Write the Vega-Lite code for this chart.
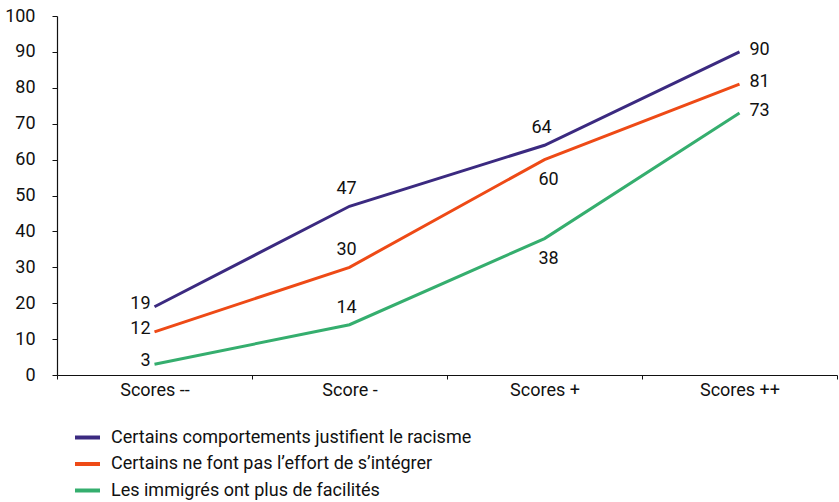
{
  "$schema": "https://vega.github.io/schema/vega-lite/v6.json",
  "width": 780,
  "height": 359,
  "padding": {"left": 57, "top": 16, "right": 2, "bottom": 127},
  "autosize": {"type": "none"},
  "background": "white",
  "config": {
    "view": {"stroke": null},
    "font": "Roboto",
    "axis": {"labelFont": "Roboto", "labelFontSize": 18, "labelColor": "#111111", "domainColor": "#111111", "tickColor": "#111111", "grid": false, "title": null},
    "legend": {"labelFont": "Roboto", "labelFontSize": 18, "labelColor": "#111111"}
  },
  "data": {
    "values": [
      {"score": "Scores --", "serie": "Certains comportements justifient le racisme", "val": 19},
      {"score": "Score -", "serie": "Certains comportements justifient le racisme", "val": 47},
      {"score": "Scores +", "serie": "Certains comportements justifient le racisme", "val": 64},
      {"score": "Scores ++", "serie": "Certains comportements justifient le racisme", "val": 90},
      {"score": "Scores --", "serie": "Certains ne font pas l’effort de s’intégrer", "val": 12},
      {"score": "Score -", "serie": "Certains ne font pas l’effort de s’intégrer", "val": 30},
      {"score": "Scores +", "serie": "Certains ne font pas l’effort de s’intégrer", "val": 60},
      {"score": "Scores ++", "serie": "Certains ne font pas l’effort de s’intégrer", "val": 81},
      {"score": "Scores --", "serie": "Les immigrés ont plus de facilités", "val": 3},
      {"score": "Score -", "serie": "Les immigrés ont plus de facilités", "val": 14},
      {"score": "Scores +", "serie": "Les immigrés ont plus de facilités", "val": 38},
      {"score": "Scores ++", "serie": "Les immigrés ont plus de facilités", "val": 73}
    ]
  },
  "encoding": {
    "x": {
      "field": "score", "type": "nominal",
      "sort": ["Scores --", "Score -", "Scores +", "Scores ++"],
      "scale": {"paddingInner": 0, "paddingOuter": 0},
      "axis": {"labelAngle": 0, "tickSize": 4, "tickBand": "extent", "labelPadding": 2, "domainWidth": 1.2}
    },
    "y": {
      "field": "val", "type": "quantitative",
      "scale": {"domain": [0, 100], "nice": false},
      "axis": {"values": [0, 10, 20, 30, 40, 50, 60, 70, 80, 90, 100], "tickSize": 5, "labelPadding": 17, "domainWidth": 1.2}
    }
  },
  "layer": [
    {
      "mark": {"type": "line", "strokeWidth": 3},
      "encoding": {
        "color": {
          "field": "serie", "type": "nominal",
          "sort": ["Certains comportements justifient le racisme", "Certains ne font pas l’effort de s’intégrer", "Les immigrés ont plus de facilités"],
          "scale": {"range": ["#3b2a80", "#ee4a16", "#35ae6e"]},
          "legend": {"title": null, "orient": "none", "legendX": 16, "legendY": 407, "symbolType": "stroke", "symbolSize": 625, "symbolStrokeWidth": 4, "labelOffset": 9, "rowPadding": 2.5, "labelLimit": 600}
        }
      }
    },
    {
      "transform": [{"filter": "datum.score == 'Scores --'"}],
      "mark": {"type": "text", "align": "right", "baseline": "middle", "dx": -4, "dy": -3, "fontSize": 18, "color": "#111111"},
      "encoding": {"text": {"field": "val"}}
    },
    {
      "transform": [{"filter": "datum.score == 'Score -' || (datum.score == 'Scores +' && datum.val == 64)"}],
      "mark": {"type": "text", "align": "center", "baseline": "middle", "dx": -3, "dy": -17, "fontSize": 18, "color": "#111111"},
      "encoding": {"text": {"field": "val"}}
    },
    {
      "transform": [{"filter": "datum.score == 'Scores +' && datum.val != 64"}],
      "mark": {"type": "text", "align": "center", "baseline": "middle", "dx": 4, "dy": 20, "fontSize": 18, "color": "#111111"},
      "encoding": {"text": {"field": "val"}}
    },
    {
      "transform": [{"filter": "datum.score == 'Scores ++'"}],
      "mark": {"type": "text", "align": "left", "baseline": "middle", "dx": 10, "dy": -2, "fontSize": 18, "color": "#111111"},
      "encoding": {"text": {"field": "val"}}
    }
  ]
}
